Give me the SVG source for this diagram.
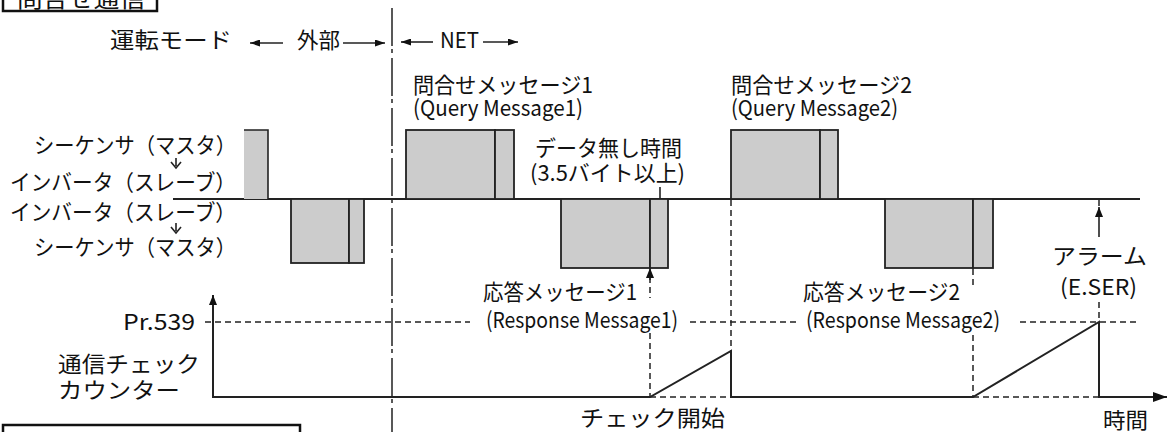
<svg xmlns="http://www.w3.org/2000/svg" width="1170" height="432" viewBox="0 0 1170 432">
<style>
text{font-family:'Noto Sans CJK JP','Noto Sans',sans-serif;font-size:22px;fill:#111}
.lat{font-size:22px}
.blk{fill:#cccccc;stroke:#222;stroke-width:1.8}
.ln{stroke:#222;stroke-width:2;fill:none}
.thin{stroke:#222;stroke-width:1.6;fill:none}
.dash{stroke:#222;stroke-width:1.5;fill:none;stroke-dasharray:6 4}
.dd{stroke:#222;stroke-width:1.5;fill:none;stroke-dasharray:38 3 4 5}
.box{fill:none;stroke:#111;stroke-width:2.5}
</style>
<defs>
<marker id="ah" viewBox="0 0 10 8" refX="10" refY="4" markerWidth="10" markerHeight="8" markerUnits="userSpaceOnUse" orient="auto"><path d="M0,0 L10,4 L0,8 Z" fill="#111"/></marker>
<marker id="ahs" viewBox="0 0 10 7" refX="10" refY="3.5" markerWidth="10" markerHeight="7" markerUnits="userSpaceOnUse" orient="auto"><path d="M0,0 L10,3.5 L0,7 Z" fill="#111"/></marker>
<marker id="ahb" viewBox="0 0 14 10" refX="14" refY="5" markerWidth="14" markerHeight="10" markerUnits="userSpaceOnUse" orient="auto"><path d="M0,0 L14,5 L0,10 Z" fill="#111"/></marker>
</defs>

<g id="title-box">
<rect class="box" x="3" y="-20" width="154" height="31"/>
<text x="17" y="7" textLength="128" lengthAdjust="spacingAndGlyphs">問合せ通信</text>
</g>
<g id="bottom-box">
<rect class="box" x="3" y="425" width="297" height="30"/>
</g>

<g id="mode-label">
<text x="110" y="48" textLength="122" lengthAdjust="spacingAndGlyphs">運転モード</text>
<line class="thin" x1="283" y1="43" x2="250" y2="43" marker-end="url(#ahs)"/>
<text x="297" y="48" textLength="43" lengthAdjust="spacingAndGlyphs">外部</text>
<line class="thin" x1="343" y1="43" x2="385" y2="43" marker-end="url(#ahs)"/>
<line class="thin" x1="433" y1="42" x2="401" y2="42" marker-end="url(#ahs)"/>
<text class="lat" x="440" y="48" textLength="39" lengthAdjust="spacingAndGlyphs">NET</text>
<line class="thin" x1="483" y1="42" x2="518" y2="42" marker-end="url(#ahs)"/>
</g>

<g id="row-labels">
<text x="34" y="153" textLength="202" lengthAdjust="spacingAndGlyphs">シーケンサ（マスタ）</text>
<path class="thin" d="M176,158 V166 M171,162 L176,168 L181,162" stroke-width="1.4"/>
<text x="10" y="190" textLength="226" lengthAdjust="spacingAndGlyphs">インバータ（スレーブ）</text>
<text x="10" y="220" textLength="226" lengthAdjust="spacingAndGlyphs">インバータ（スレーブ）</text>
<path class="thin" d="M176,223 V231 M171,227 L176,233 L181,227" stroke-width="1.4"/>
<text x="34" y="255" textLength="202" lengthAdjust="spacingAndGlyphs">シーケンサ（マスタ）</text>
</g>

<g id="connectors">
<line class="dd" x1="392" y1="8" x2="392" y2="432"/>
<line class="ln" x1="173" y1="199" x2="1140" y2="199"/>
<line class="dash" x1="731" y1="200" x2="731" y2="351"/>
<line class="dash" x1="650" y1="277" x2="650" y2="298"/>
<line class="dash" x1="650" y1="333" x2="650" y2="397"/>
<line class="dash" x1="973" y1="269" x2="973" y2="288"/>
<line class="dash" x1="973" y1="335" x2="973" y2="397"/>
<line class="dash" x1="1099" y1="200" x2="1099" y2="206"/>
<line class="dash" x1="1099" y1="302" x2="1099" y2="322"/>
<line class="dash" x1="205" y1="322" x2="470" y2="322"/>
<line class="dash" x1="690" y1="322" x2="797" y2="322"/>
<line class="dash" x1="1020" y1="322" x2="1137" y2="322"/>
<line class="dash" x1="650" y1="397" x2="731" y2="397"/>
<line class="dash" x1="973" y1="397" x2="1099" y2="397"/>
<line class="thin" x1="660" y1="187" x2="660" y2="222" marker-end="url(#ah)"/>
<line class="thin" x1="650" y1="280" x2="650" y2="268" marker-end="url(#ah)"/>
<line class="thin" x1="1099" y1="237" x2="1099" y2="207" marker-end="url(#ah)"/>
<line class="ln" x1="213" y1="398" x2="213" y2="295" marker-end="url(#ah)"/>
<path class="ln" d="M213,397 H650 L731,351 V397 H973 L1099,322 V397 H1167" marker-end="url(#ahb)"/>
</g>

<g id="master-block-0">
<rect x="244" y="130" width="24" height="69" fill="#cccccc"/>
<path class="thin" d="M244,130 H268 V199" stroke-width="1.8"/>
</g>
<g id="slave-block-0">
<rect class="blk" x="291" y="199" width="58" height="64"/>
<rect class="blk" x="349" y="199" width="15" height="64"/>
</g>
<g id="query-1">
<rect class="blk" x="406" y="130" width="89" height="69"/>
<rect class="blk" x="495" y="130" width="19" height="69"/>
<text x="413" y="93" textLength="180" lengthAdjust="spacingAndGlyphs">問合せメッセージ1</text>
<text class="lat" x="413" y="116" textLength="170" lengthAdjust="spacingAndGlyphs">(Query Message1)</text>
</g>
<g id="query-2">
<rect class="blk" x="731" y="130" width="89" height="69"/>
<rect class="blk" x="820" y="130" width="18" height="69"/>
<text x="731" y="93" textLength="181" lengthAdjust="spacingAndGlyphs">問合せメッセージ2</text>
<text class="lat" x="731" y="116" textLength="167" lengthAdjust="spacingAndGlyphs">(Query Message2)</text>
</g>
<g id="no-data-label">
<text x="535" y="156" textLength="147" lengthAdjust="spacingAndGlyphs">データ無し時間</text>
<text x="530" y="181" textLength="155" lengthAdjust="spacingAndGlyphs">(3.5バイト以上)</text>
</g>
<g id="response-1">
<rect class="blk" x="561" y="199" width="89" height="69"/>
<rect class="blk" x="650" y="199" width="18" height="69"/>
<text x="483" y="300" textLength="154" lengthAdjust="spacingAndGlyphs">応答メッセージ1</text>
<text class="lat" x="486" y="328" textLength="192" lengthAdjust="spacingAndGlyphs">(Response Message1)</text>
</g>
<g id="response-2">
<rect class="blk" x="885" y="199" width="88" height="69"/>
<rect class="blk" x="973" y="199" width="20" height="69"/>
<text x="803" y="300" textLength="157" lengthAdjust="spacingAndGlyphs">応答メッセージ2</text>
<text class="lat" x="806" y="328" textLength="194" lengthAdjust="spacingAndGlyphs">(Response Message2)</text>
</g>
<g id="alarm">
<text x="1052" y="264" textLength="95" lengthAdjust="spacingAndGlyphs">アラーム</text>
<text class="lat" x="1060" y="295" textLength="77" lengthAdjust="spacingAndGlyphs">(E.SER)</text>
</g>
<g id="counter-labels">
<text class="lat" x="123" y="330" textLength="72" lengthAdjust="spacingAndGlyphs">Pr.539</text>
<text x="58" y="372" textLength="142" lengthAdjust="spacingAndGlyphs">通信チェック</text>
<text x="58" y="398" textLength="122" lengthAdjust="spacingAndGlyphs">カウンター</text>
<text x="580" y="426" textLength="145" lengthAdjust="spacingAndGlyphs">チェック開始</text>
<text x="1103" y="428" textLength="45" lengthAdjust="spacingAndGlyphs">時間</text>
</g>
</svg>
